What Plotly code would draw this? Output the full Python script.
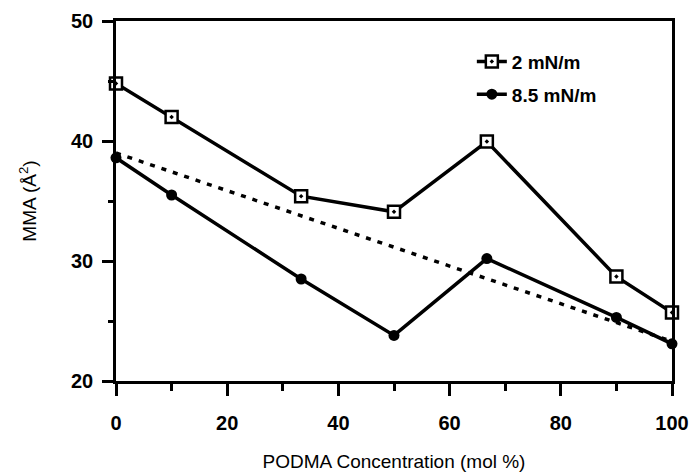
import plotly.graph_objects as go

conc = [0, 10, 33.3, 50, 66.7, 90, 100]
mma_2 = [44.8, 42.0, 35.4, 34.1, 39.95, 28.7, 25.7]
mma_85 = [38.6, 35.5, 28.5, 23.8, 30.2, 25.3, 23.1]
ideal_x = [0, 100]
ideal_y = [39.0, 23.3]
x_ticks = [0, 20, 40, 60, 80, 100]
y_ticks = [20, 30, 40, 50]

FAM = "Liberation Sans, Arial, sans-serif"

fig = go.Figure()
fig.add_trace(go.Scatter(x=ideal_x, y=ideal_y, mode="lines", showlegend=False,
                         line=dict(color="black", width=3.5, dash="5px,7px")))
fig.add_trace(go.Scatter(x=conc, y=mma_2, mode="lines+markers", name="2 mN/m",
                         legendgroup="a",
                         line=dict(color="black", width=3.5),
                         marker=dict(symbol="square-dot", size=12, color="white",
                                     line=dict(color="black", width=2.5)),
                         cliponaxis=False))
fig.add_trace(go.Scatter(x=conc, y=mma_85, mode="lines+markers", name="8.5 mN/m",
                         legendgroup="b",
                         line=dict(color="black", width=3.5),
                         marker=dict(symbol="circle", size=11, color="black"),
                         cliponaxis=False))

font_tick = dict(family=FAM, size=20, color="black", weight="bold")
fig.update_layout(
    width=697, height=473,
    margin=dict(l=116, r=25, t=21, b=92),
    plot_bgcolor="white", paper_bgcolor="white",
    font=dict(family=FAM, size=19, color="black"),
    legend=dict(x=0.64, y=0.94, xanchor="left", yanchor="top",
                bgcolor="rgba(0,0,0,0)", tracegroupgap=5, itemwidth=30,
                font=dict(family=FAM, size=19, color="black", weight="bold")),
    xaxis=dict(range=[0, 100], tickvals=x_ticks, showgrid=False, zeroline=False,
               showline=True, linecolor="black", linewidth=2.5, mirror=True,
               automargin=False,
               ticks="outside", ticklen=12, tickwidth=2.5, tickcolor="black",
               tickfont=font_tick, ticklabelstandoff=10,
               minor=dict(tickvals=[10, 30, 50, 70, 90], ticks="outside", ticklen=7,
                          tickwidth=2.5, tickcolor="black", showgrid=False),
               title=dict(text="PODMA Concentration (mol %)", standoff=22,
                          font=dict(family=FAM, size=19))),
    yaxis=dict(range=[20, 50], tickvals=y_ticks, showgrid=False, zeroline=False,
               showline=True, linecolor="black", linewidth=2.5, mirror=True,
               automargin=False,
               ticks="outside", ticklen=11, tickwidth=2.5, tickcolor="black",
               tickfont=font_tick, ticklabelstandoff=5,
               minor=dict(tickvals=[25, 35, 45], ticks="outside", ticklen=5,
                          tickwidth=2.5, tickcolor="black", showgrid=False),
               title=dict(text="MMA (Å<sup>2</sup>)", standoff=30,
                          font=dict(family=FAM, size=19))),
)
fig.write_html("out.html")
